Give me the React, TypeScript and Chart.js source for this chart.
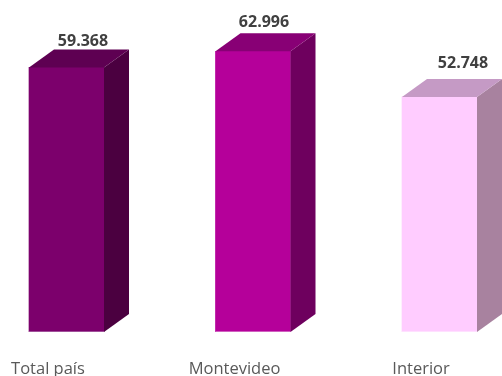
import React, { useEffect, useRef } from "react";
import { Chart, registerables } from "chart.js";

Chart.register(...registerables);

const categories: string[] = ["Total país", "Montevideo", "Interior"];
const values: number[] = [59.368, 62.996, 52.748];
const valueLabels: string[] = ["59.368", "62.996", "52.748"];

const frontColors = ["#7C006C", "#B5009A", "#FFCCFF"];
const topColors = ["#5E0052", "#880075", "#C59AC5"];
const sideColors = ["#4B0040", "#6E005E", "#A8829F"];
const edgeColors = ["#A0509A", "#D060C0", "#FFE0FF"];

const DEPTH_X = 25;
const DEPTH_Y = 18;
const LABEL_DX = [16.5, 11, 23.5];
const LABEL_DY = [21, 24, 29];
const CAT_DX = -18.5;

const box3dPlugin = {
  id: "box3d",
  afterDatasetsDraw(chart: any) {
    const ctx: CanvasRenderingContext2D = chart.ctx;
    const meta = chart.getDatasetMeta(0);
    meta.data.forEach((bar: any, i: number) => {
      const { x, y, base, width } = bar.getProps(["x", "y", "base", "width"], true);
      const left = x - width / 2;
      const right = x + width / 2;
      ctx.save();
      ctx.fillStyle = sideColors[i];
      ctx.beginPath();
      ctx.moveTo(right, y);
      ctx.lineTo(right + DEPTH_X, y - DEPTH_Y);
      ctx.lineTo(right + DEPTH_X, base - DEPTH_Y);
      ctx.lineTo(right, base);
      ctx.closePath();
      ctx.fill();
      ctx.fillStyle = topColors[i];
      ctx.beginPath();
      ctx.moveTo(left, y);
      ctx.lineTo(left + DEPTH_X, y - DEPTH_Y);
      ctx.lineTo(right + DEPTH_X, y - DEPTH_Y);
      ctx.lineTo(right, y);
      ctx.closePath();
      ctx.fill();
      ctx.fillStyle = edgeColors[i];
      ctx.fillRect(left, base - 1, width, 1);
      ctx.fillStyle = "#404040";
      ctx.font = "bold 16px 'Open Sans'";
      ctx.textAlign = "center";
      ctx.textBaseline = "alphabetic";
      ctx.fillText(valueLabels[i], x + LABEL_DX[i], y - LABEL_DY[i]);
      ctx.fillStyle = "#595959";
      ctx.font = "16.5px 'Open Sans'";
      ctx.fillText(categories[i], x + CAT_DX, 374);
      ctx.restore();
    });
  },
};

export default function App() {
  const canvasRef = useRef<HTMLCanvasElement | null>(null);

  useEffect(() => {
    if (!canvasRef.current) return;
    const chart = new Chart(canvasRef.current, {
      type: "bar",
      data: {
        datasets: [
          {
            data: values.map((v, i) => ({ x: i, y: v })),
            backgroundColor: frontColors,
            borderWidth: 0,
            barThickness: 75,
          },
        ],
      },
      options: {
        responsive: false,
        animation: false,
        layout: { padding: { top: 20, bottom: 44, left: 0, right: 0 } },
        plugins: {
          legend: { display: false },
          tooltip: { enabled: false },
        },
        scales: {
          x: {
            type: "linear",
            display: false,
            offset: false,
            min: -66.5 / 186.5,
            max: -66.5 / 186.5 + 502 / 186.5,
          },
          y: {
            display: false,
            min: 0,
            max: 70,
          },
        },
      },
      plugins: [box3dPlugin],
    });
    return () => chart.destroy();
  }, []);

  return (
    <div style={{ position: "absolute", left: 0, top: 0, width: 502, height: 376, background: "#ffffff" }}>
      <canvas ref={canvasRef} width={502} height={376} style={{ display: "block" }} />
    </div>
  );
}
